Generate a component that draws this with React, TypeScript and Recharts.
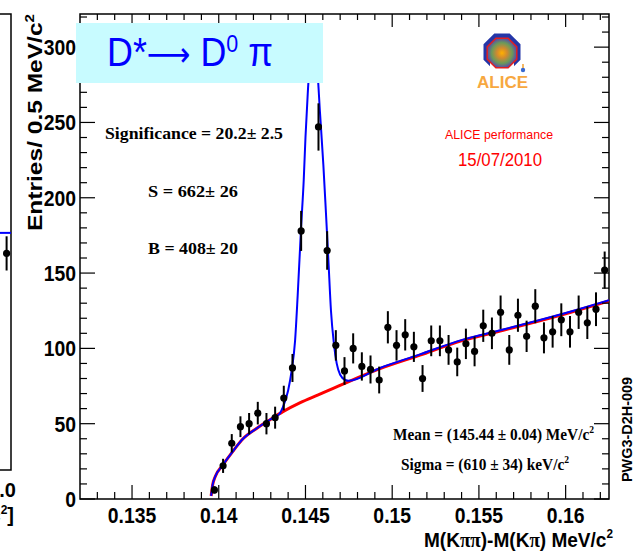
import React from "react";
import {
  ComposedChart,
  Scatter,
  Line,
  XAxis,
  YAxis,
  ErrorBar,
  ReferenceArea,
} from "recharts";

// Delta-mass histogram, 0.5 MeV bins (GeV on the axis)
const binCenters = [
  0.13975, 0.14025, 0.14075, 0.14125, 0.14175, 0.14225, 0.14275, 0.14325, 0.14375, 0.14425,
  0.14475, 0.14525, 0.14575, 0.14625, 0.14675, 0.14725, 0.14775, 0.14825, 0.14875, 0.14925,
  0.14975, 0.15025, 0.15075, 0.15125, 0.15175, 0.15225, 0.15275, 0.15325, 0.15375, 0.15425,
  0.15475, 0.15525, 0.15575, 0.15625, 0.15675, 0.15725, 0.15775, 0.15825, 0.15875, 0.15925,
  0.15975, 0.16025, 0.16075, 0.16125, 0.16175, 0.16225,
];
const entries = [
  6, 22, 37, 48, 50, 57, 50, 54, 67, 87,
  178, 296, 247, 165, 102, 85, 100, 88, 86, 79,
  114, 102, 109, 101, 80, 105, 105, 99, 91, 103,
  98, 115, 110, 124, 99, 122, 108, 128, 107, 111,
  119, 111, 124, 117, 126, 152,
];
const entryErrors = [
  2.4, 4.7, 6.1, 6.9, 7.1, 7.5, 7.1, 7.3, 8.2, 9.3,
  13.3, 17.2, 15.7, 12.8, 10.1, 9.2, 10, 9.4, 9.3, 8.9,
  10.7, 10.1, 10.4, 10, 8.9, 10.2, 10.2, 9.9, 9.5, 10.1,
  9.9, 10.7, 10.5, 11.1, 9.9, 11, 10.4, 11.3, 10.3, 10.5,
  10.9, 10.5, 11.1, 10.8, 11.2, 12.3,
];

// background fit (red)
const bgX = [
  0.13956, 0.13965, 0.1398, 0.1402, 0.1408, 0.1414, 0.1422, 0.143, 0.1437, 0.1447,
  0.1457, 0.1466, 0.1475, 0.1493, 0.1516, 0.1537, 0.1564, 0.1584, 0.1603, 0.1625,
];
const bgY = [
  2, 9.5, 15, 22, 31.5, 40, 47, 53, 58, 64,
  69, 73.5, 78, 86.5, 95.5, 104, 112, 118, 124, 131.5,
];

// signal + background fit (blue)
const fitX = [
  0.13956, 0.13965, 0.1398, 0.1402, 0.1408, 0.1414, 0.1422, 0.143, 0.1435, 0.1437,
  0.144, 0.1442, 0.1444, 0.14455, 0.14475, 0.1449, 0.145, 0.14513, 0.14525, 0.14544,
  0.14565, 0.14584, 0.14603, 0.14618, 0.14632, 0.14647, 0.14664, 0.1468, 0.147, 0.1473,
  0.1475, 0.1493, 0.1516, 0.1537, 0.1564, 0.1584, 0.1603, 0.1625,
];
const fitY = [
  2, 9.5, 15, 22, 31.5, 40, 47, 53, 56.5, 61,
  72, 85, 105, 135, 181, 212, 240, 269, 290, 302,
  290, 256, 222, 190, 159, 125, 103, 90, 82.5, 79,
  78.5, 87, 96, 104.5, 112.5, 118.5, 124.5, 132,
];

const xTicks = [
  0.133, 0.134, 0.135, 0.136, 0.137, 0.138, 0.139, 0.14, 0.141, 0.142,
  0.143, 0.144, 0.145, 0.146, 0.147, 0.148, 0.149, 0.15, 0.151, 0.152,
  0.153, 0.154, 0.155, 0.156, 0.157, 0.158, 0.159, 0.16, 0.161, 0.162,
];
const xLabels = [0.135, 0.14, 0.145, 0.15, 0.155, 0.16];
const yTicks = [
  0, 10, 20, 30, 40, 50, 60, 70, 80, 90, 100, 110, 120, 130, 140, 150, 160,
  170, 180, 190, 200, 210, 220, 230, 240, 250, 260, 270, 280, 290, 300, 310, 320,
];
const yLabels = [0, 50, 100, 150, 200, 250, 300];

// neighbouring pad, only its right edge shows
const neighbourPoint = [{ x: 0.6, y: 95, err: 7.5 }];
const neighbourFitX = [0, 1];
const neighbourFitY = [104, 104];

const X_MIN = 0.132;
const X_MAX = 0.1625;
const Y_MAX = 322;

const W = 641;
const H = 551;
const Y_AXIS_W = 80;
const X_AXIS_H = 52;
const M = { top: 14, right: 32, bottom: 0, left: 0 };
const PLOT_W = W - Y_AXIS_W - M.right;
const PLOT_H = H - M.top - X_AXIS_H;

const SANS = "'Liberation Sans', Arial, Helvetica, sans-serif";
const SERIF = "'Liberation Serif', 'Times New Roman', serif";

const points = binCenters.map((x, i) => ({ x, y: entries[i], err: entryErrors[i] }));
const bgLine = bgX.map((x, i) => ({ x, y: bgY[i] }));
const fitLine = fitX.map((x, i) => ({ x, y: fitY[i] }));
const neighbourLine = neighbourFitX.map((x, i) => ({ x, y: neighbourFitY[i] }));

const isIn = (list: number[], v: number) => list.some((l) => Math.abs(l - v) < 1e-7);

// bottom axis tick: draws the inward tick at bottom and top of the frame
const XTick = (props: any) => {
  const { x, y, payload } = props;
  const v = payload.value as number;
  const major = isIn(xLabels, v);
  const len = major ? 14 : 7;
  const top = y - PLOT_H;
  return (
    <g>
      <line x1={x} x2={x} y1={y} y2={y - len} stroke="#000" strokeWidth={1.2} />
      <line x1={x} x2={x} y1={top} y2={top + len - 1} stroke="#000" strokeWidth={1.2} />
      {major && (
        <text
          transform={`translate(${x},${y + 24}) scale(0.88,1)`}
          textAnchor="middle"
          fontFamily={SANS}
          fontWeight="bold"
          fontSize={22}
          fill="#000"
        >
          {String(v)}
        </text>
      )}
    </g>
  );
};

// left axis tick, mirrored on the right edge
const YTick = (props: any) => {
  const { x, y, payload } = props;
  const v = payload.value as number;
  const major = isIn(yLabels, v);
  const len = major ? 15 : 7;
  const right = x + PLOT_W;
  return (
    <g>
      <line x1={x} x2={x + len} y1={y} y2={y} stroke="#000" strokeWidth={1.2} />
      <line x1={right} x2={right - len} y1={y} y2={y} stroke="#000" strokeWidth={1.2} />
      {major && (
        <text
          transform={`translate(${x - 4},${y + 8}) scale(0.88,1)`}
          textAnchor="end"
          fontFamily={SANS}
          fontWeight="bold"
          fontSize={22}
          fill="#000"
        >
          {String(v)}
        </text>
      )}
    </g>
  );
};

const Dot = (props: any) => <circle cx={props.cx} cy={props.cy} r={3.6} fill="#000" />;

const octagon = (cx: number, cy: number, r: number) =>
  Array.from({ length: 8 }, (_, i) => {
    const a = Math.PI / 8 + (i * Math.PI) / 4;
    return `${(cx + r * Math.cos(a)).toFixed(1)},${(cy + r * Math.sin(a)).toFixed(1)}`;
  }).join(" ");

const AliceLogo = () => (
  <g>
    <defs>
      <radialGradient id="aliceCore" cx="50%" cy="50%" r="50%">
        <stop offset="0%" stopColor="#ffb000" />
        <stop offset="35%" stopColor="#d08a30" />
        <stop offset="70%" stopColor="#6a9a5a" />
        <stop offset="100%" stopColor="#5a4aa8" />
      </radialGradient>
    </defs>
    <polygon points={octagon(502, 52, 20)} fill="#2436a8" />
    <rect x={490} y={62} width={24} height={12} fill="#fff" />
    <polygon points={octagon(502, 53, 16)} fill="url(#aliceCore)" stroke="#e02020" strokeWidth={1.5} />
    <circle cx={523} cy={70} r={2.2} fill="#3a6ad0" />
    <line x1={523} y1={64} x2={523} y2={68} stroke="#f0a030" strokeWidth={1.5} />
    <text x={477} y={88} textLength={51} lengthAdjust="spacingAndGlyphs" fontFamily={SANS} fontWeight="bold" fontSize={17} fill="#f7a840">
      ALICE
    </text>
  </g>
);

const Annotations = () => (
  <svg
    width={W}
    height={H}
    style={{ position: "absolute", left: 0, top: 0, pointerEvents: "none" }}
  >
    {/* decay label */}
    <rect x={76} y={23} width={247} height={60} fill="#c8fbff" />
    <text x={107} y={66} textLength={166} lengthAdjust="spacingAndGlyphs" fontFamily={SANS} fontSize={40} fill="#0000ff">
      D*<tspan fontFamily="'DejaVu Sans', sans-serif" fontSize={34}>⟶</tspan> D
      <tspan dy={-14} fontSize={24}>0</tspan>
      <tspan dy={14}> π</tspan>
    </text>

    {/* fit results */}
    <g fontFamily={SERIF} fontWeight="bold" fill="#000">
      <text x={105} y={139} textLength={178} lengthAdjust="spacingAndGlyphs" fontSize={17}>
        Significance = 20.2± 2.5
      </text>
      <text x={148} y={197} textLength={90} lengthAdjust="spacingAndGlyphs" fontSize={17}>
        S = 662± 26
      </text>
      <text x={148} y={254} textLength={90} lengthAdjust="spacingAndGlyphs" fontSize={17}>
        B = 408± 20
      </text>
      <text x={393} y={440} textLength={201} lengthAdjust="spacingAndGlyphs" fontSize={16}>
        Mean = (145.44 ± 0.04) MeV/c<tspan dy={-7} fontSize={10}>2</tspan>
      </text>
      <text x={401} y={470} textLength={168} lengthAdjust="spacingAndGlyphs" fontSize={16}>
        Sigma = (610 ± 34) keV/c<tspan dy={-7} fontSize={10}>2</tspan>
      </text>
    </g>

    <AliceLogo />
    <text x={445} y={139} textLength={108} lengthAdjust="spacingAndGlyphs" fontFamily={SANS} fontSize={13} fill="#ff0000">
      ALICE performance
    </text>
    <text x={458} y={166} textLength={84} lengthAdjust="spacingAndGlyphs" fontFamily={SANS} fontSize={19} fill="#ff0000">
      15/07/2010
    </text>

    {/* axis titles */}
    <text
      transform="translate(42,231) rotate(-90)"
      textLength={217}
      lengthAdjust="spacingAndGlyphs"
      fontFamily={SANS}
      fontWeight="bold"
      fontSize={21}
      fill="#000"
    >
      Entries/ 0.5 MeV/c<tspan dy={-8} fontSize={13}>2</tspan>
    </text>
    <text x={424} y={547} textLength={189} lengthAdjust="spacingAndGlyphs" fontFamily={SANS} fontWeight="bold" fontSize={21} fill="#000">
      M(K<tspan fontFamily={SERIF}>ππ</tspan>)-M(K<tspan fontFamily={SERIF}>π</tspan>) MeV/c
      <tspan dy={-9} fontSize={13}>2</tspan>
    </text>
    <text
      transform="translate(632,482) rotate(-90)"
      textLength={105}
      lengthAdjust="spacingAndGlyphs"
      fontFamily={SANS}
      fontWeight="bold"
      fontSize={14}
      fill="#000"
    >
      PWG3-D2H-009
    </text>

    {/* cut-off labels of the neighbouring pad */}
    <text x={16} y={497} textAnchor="end" fontFamily={SANS} fontWeight="bold" fontSize={20} fill="#000">
      1.0
    </text>
    <text x={14} y={522} textAnchor="end" fontFamily={SANS} fontWeight="bold" fontSize={20} fill="#000">
      c<tspan dy={-8} fontSize={12}>2</tspan>
      <tspan dy={8}>]</tspan>
    </text>
  </svg>
);

const NeighbourPad = () => (
  <div style={{ position: "absolute", left: 0, top: 0 }}>
    <ComposedChart width={14} height={H} margin={{ top: 14, right: 3, bottom: 81, left: 0 }}>
      <XAxis type="number" dataKey="x" domain={[0, 1]} hide allowDataOverflow />
      <YAxis type="number" dataKey="y" domain={[0, 200]} hide allowDataOverflow />
      <ReferenceArea x1={-1} x2={1} y1={0} y2={200} fill="none" stroke="#000" strokeWidth={1.5} ifOverflow="visible" />
      <Line data={neighbourLine} dataKey="y" stroke="#0000ff" strokeWidth={2} dot={false} isAnimationActive={false} />
      <Scatter data={neighbourPoint} dataKey="y" shape={<Dot />} isAnimationActive={false}>
        <ErrorBar dataKey="err" direction="y" width={0} stroke="#000" strokeWidth={2} />
      </Scatter>
    </ComposedChart>
  </div>
);

export default function App() {
  return (
    <div style={{ position: "absolute", left: 0, top: 0, width: W, height: H, background: "#fff" }}>
      <NeighbourPad />
      <div style={{ position: "absolute", left: 0, top: 0 }}>
        <ComposedChart width={W} height={H} margin={M}>
          <XAxis
            type="number"
            dataKey="x"
            domain={[X_MIN, X_MAX]}
            allowDataOverflow
            ticks={xTicks}
            interval={0}
            height={X_AXIS_H}
            tickSize={0}
            tickMargin={0}
            axisLine={false}
            tick={<XTick />}
          />
          <YAxis
            type="number"
            dataKey="y"
            domain={[0, Y_MAX]}
            allowDataOverflow
            ticks={yTicks}
            interval={0}
            width={Y_AXIS_W}
            tickSize={0}
            tickMargin={0}
            axisLine={false}
            tick={<YTick />}
          />
          <ReferenceArea
            x1={X_MIN}
            x2={X_MAX}
            y1={0}
            y2={Y_MAX}
            fill="none"
            stroke="#000"
            strokeWidth={1.5}
          />
          <Line
            data={bgLine}
            dataKey="y"
            type="monotone"
            stroke="#ff0000"
            strokeWidth={3}
            dot={false}
            isAnimationActive={false}
          />
          <Line
            data={fitLine}
            dataKey="y"
            type="monotone"
            stroke="#0000ff"
            strokeWidth={2}
            dot={false}
            isAnimationActive={false}
          />
          <Scatter data={points} dataKey="y" shape={<Dot />} isAnimationActive={false}>
            <ErrorBar dataKey="err" direction="y" width={0} stroke="#000" strokeWidth={2} />
          </Scatter>
        </ComposedChart>
      </div>
      <Annotations />
    </div>
  );
}
